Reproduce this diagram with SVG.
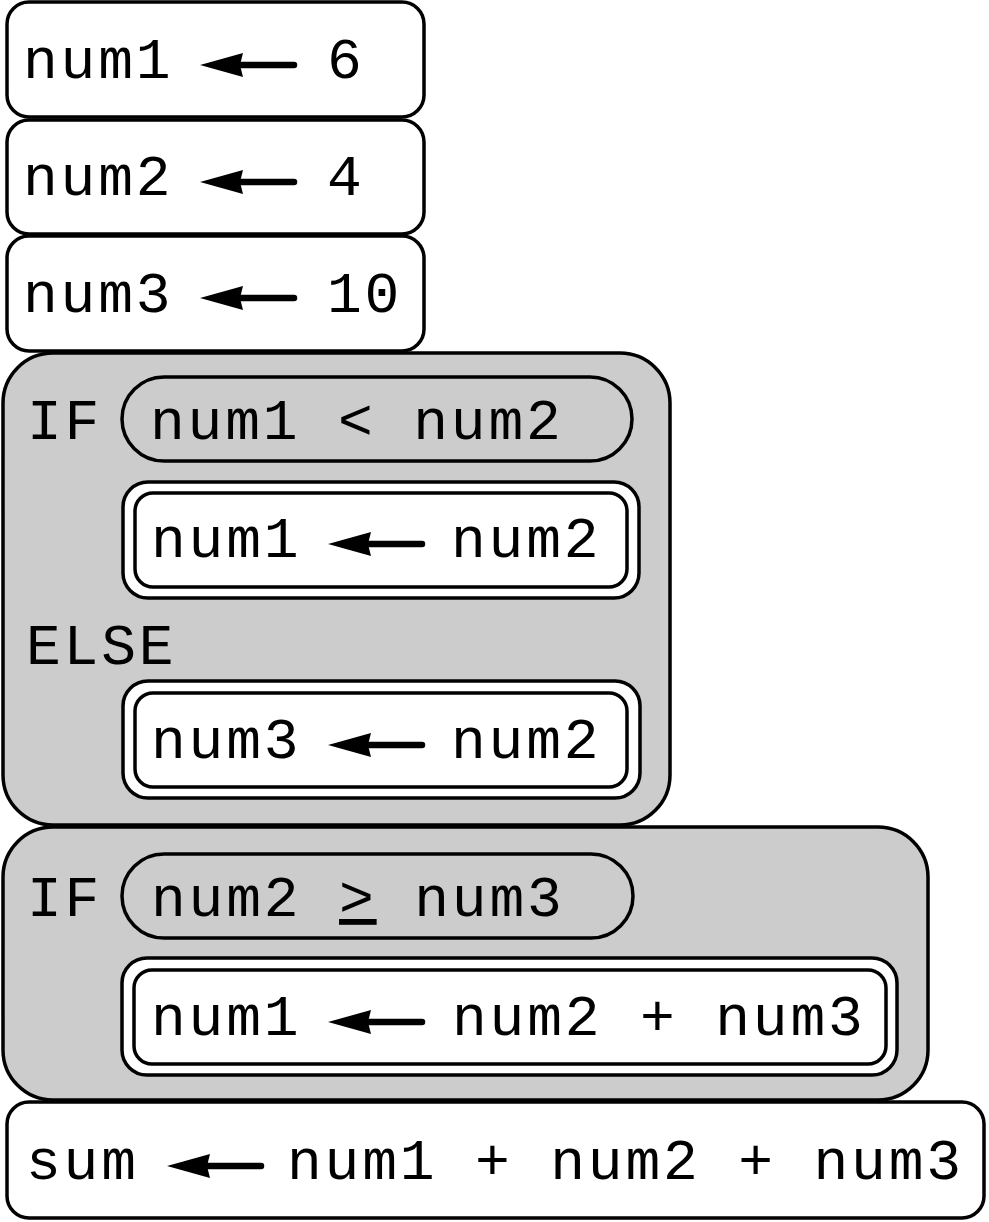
<svg xmlns="http://www.w3.org/2000/svg" xmlns:xlink="http://www.w3.org/1999/xlink" width="989" height="1222" viewBox="0 0 989 1222">
<style>
.box{fill:#ffffff;stroke:#000000;stroke-width:3.5}
.blk{fill:#cccccc;stroke:#000000;stroke-width:3.5}
.t{font-family:"Liberation Mono","DejaVu Sans Mono",monospace;font-size:58px;letter-spacing:2.8px;fill:#000000}
</style>
<defs>
<g id="larr">
<line x1="38" y1="0" x2="94" y2="0" stroke="#000" stroke-width="6.5" stroke-linecap="round"/>
<polygon points="0,0 43,-12 40,0 43,12" fill="#000"/>
</g>
</defs>
<rect width="989" height="1222" fill="#ffffff"/>

<g id="assign-num1">
<rect class="box" x="7" y="2" width="417" height="115" rx="22"/>
<text class="t" x="23" y="78">num1</text>
<use xlink:href="#larr" transform="translate(200,65)"/>
<text class="t" x="327" y="78">6</text>
</g>

<g id="assign-num2">
<rect class="box" x="7" y="120" width="417" height="114" rx="22"/>
<text class="t" x="23" y="195">num2</text>
<use xlink:href="#larr" transform="translate(200,182)"/>
<text class="t" x="327" y="195">4</text>
</g>

<g id="assign-num3">
<rect class="box" x="7" y="236" width="417" height="115" rx="22"/>
<text class="t" x="23" y="312">num3</text>
<use xlink:href="#larr" transform="translate(200,298)"/>
<text class="t" x="327" y="312">10</text>
</g>

<g id="if-block-1">
<rect class="blk" x="3" y="353" width="667" height="472" rx="50"/>
<text class="t" x="27" y="439">IF</text>
<g id="cond-1">
<rect class="blk" x="122" y="377" width="510" height="84" rx="42"/>
<text class="t" x="150" y="439">num1 &lt; num2</text>
</g>
<g id="then-1">
<rect class="box" x="123" y="482" width="516" height="116" rx="25"/>
<rect class="box" x="135" y="493" width="492" height="94" rx="18"/>
<text class="t" x="151" y="557">num1</text>
<use xlink:href="#larr" transform="translate(328,544)"/>
<text class="t" x="451" y="557">num2</text>
</g>
<text class="t" x="26" y="664">ELSE</text>
<g id="else-1">
<rect class="box" x="123" y="681" width="517" height="117" rx="25"/>
<rect class="box" x="135" y="693" width="492" height="94" rx="18"/>
<text class="t" x="151" y="758">num3</text>
<use xlink:href="#larr" transform="translate(328,745)"/>
<text class="t" x="451" y="758">num2</text>
</g>
</g>

<g id="if-block-2">
<rect class="blk" x="3" y="827" width="925" height="273" rx="50"/>
<text class="t" x="27" y="916">IF</text>
<g id="cond-2">
<rect class="blk" x="122" y="854" width="511" height="84" rx="42"/>
<text class="t" x="151" y="916" xml:space="preserve">num2 <tspan text-decoration="underline">&gt;</tspan> num3</text>
</g>
<g id="then-2">
<rect class="box" x="122" y="958" width="775" height="117" rx="25"/>
<rect class="box" x="134" y="970" width="752" height="94" rx="18"/>
<text class="t" x="151" y="1035">num1</text>
<use xlink:href="#larr" transform="translate(328,1022)"/>
<text class="t" x="452" y="1035">num2 + num3</text>
</g>
</g>

<g id="assign-sum">
<rect class="box" x="7" y="1102" width="977" height="116" rx="22"/>
<text class="t" x="26" y="1179">sum</text>
<use xlink:href="#larr" transform="translate(167,1166)"/>
<text class="t" x="287" y="1179">num1 + num2 + num3</text>
</g>

<g id="connectors"></g>
</svg>
